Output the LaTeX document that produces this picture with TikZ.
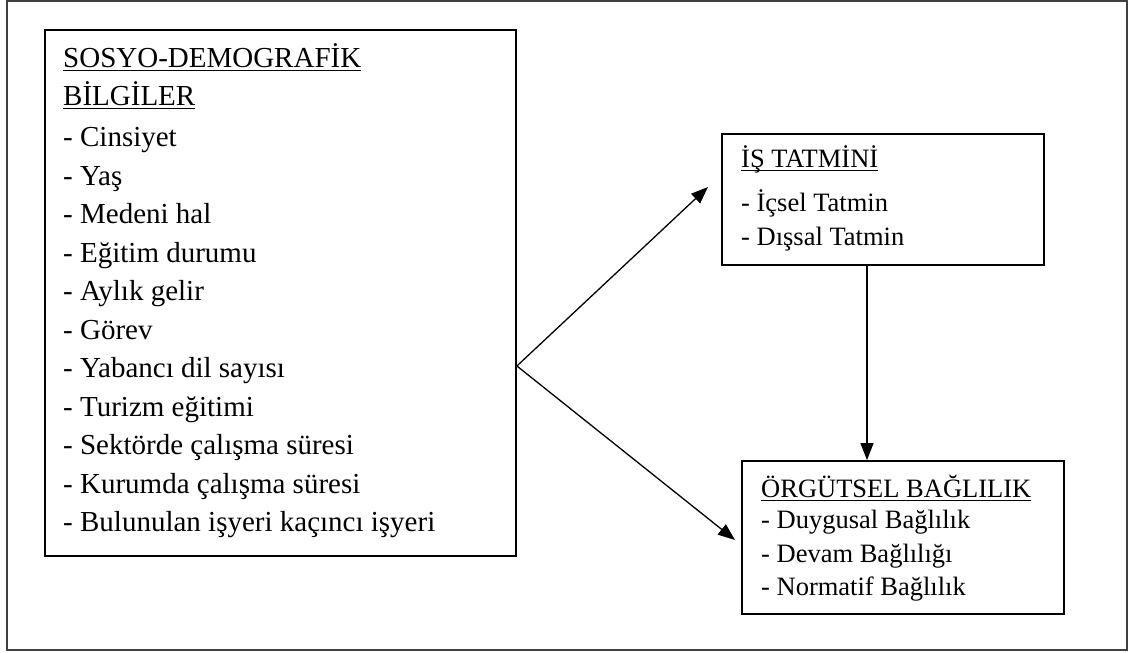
\documentclass[tikz,border=0pt]{standalone}
\usepackage{fontspec}
\setmainfont{Liberation Serif}
\usetikzlibrary{arrows.meta}
\newcommand{\myul}[1]{\setbox0\hbox{#1}\rlap{\rule[-3.5pt]{\wd0}{1.4pt}}\box0}
\tikzset{
  frame/.style={draw=black!75, line width=1.4pt},
  box/.style={draw=black, line width=1.9pt, inner sep=0pt},
  lefttxt/.style={anchor=base west, inner sep=0pt, font=\fontsize{29}{35}\selectfont},
  righttxt/.style={anchor=base west, inner sep=0pt, font=\fontsize{26.5}{32}\selectfont},
  arr/.style={line width=1.3pt, -{Triangle[length=17pt,width=13pt]}}
}
\begin{document}
\begin{tikzpicture}[x=1pt,y=1pt]
\useasboundingbox (0,0) rectangle (1133,653);
\fill[white] (0,0) rectangle (1133,653);
% outer frame
\draw[frame] (7,3) rectangle (1127,652);
% boxes
\node[box, minimum width=471pt, minimum height=526pt, anchor=south west] (sdb) at (44,96) {};
\node[box, minimum width=322pt, minimum height=131pt, anchor=south west] (is) at (721,387) {};
\node[box, minimum width=322pt, minimum height=153pt, anchor=south west] (ob) at (741,38) {};
% left texts
\node[lefttxt] (s1) at (63,585) {\myul{SOSYO-DEMOGRAFİK}};
\node[lefttxt] (s2) at (63,547) {\myul{BİLGİLER}};
\node[lefttxt] (s3) at (63,506) {- Cinsiyet};
\node[lefttxt] (s4) at (63,467.5) {- Yaş};
\node[lefttxt] (s5) at (63,429) {- Medeni hal};
\node[lefttxt] (s6) at (63,390.5) {- Eğitim durumu};
\node[lefttxt] (s7) at (63,352) {- Aylık gelir};
\node[lefttxt] (s8) at (63,313.5) {- Görev};
\node[lefttxt] (s9) at (63,275) {- Yabancı dil sayısı};
\node[lefttxt] (s10) at (63,236.5) {- Turizm eğitimi};
\node[lefttxt] (s11) at (63,198) {- Sektörde çalışma süresi};
\node[lefttxt] (s12) at (63,159.5) {- Kurumda çalışma süresi};
\node[lefttxt] (s13) at (63,121) {- Bulunulan işyeri kaçıncı işyeri};
% right top texts
\node[righttxt] (i1) at (741,485) {\myul{İŞ TATMİNİ}};
\node[righttxt] (i2) at (741,441) {- İçsel Tatmin};
\node[righttxt] (i3) at (741,407) {- Dışsal Tatmin};
% right bottom texts
\node[righttxt] (o1) at (761,155) {\myul{ÖRGÜTSEL BAĞLILIK}};
\node[righttxt] (o2) at (761,124) {- Duygusal Bağlılık};
\node[righttxt] (o3) at (761,90) {- Devam Bağlılığı};
\node[righttxt] (o4) at (761,57) {- Normatif Bağlılık};
% connectors
\coordinate (src) at (515,287);
\coordinate (t1) at (708,466);
\coordinate (t2) at (735,113);
\draw[arr] (sdb.east |- src) -- (t1);
\draw[arr] (sdb.east |- src) -- (t2);
\draw[arr] (is.south -| 867,0) -- (ob.north -| 867,0);
\end{tikzpicture}
\end{document}
